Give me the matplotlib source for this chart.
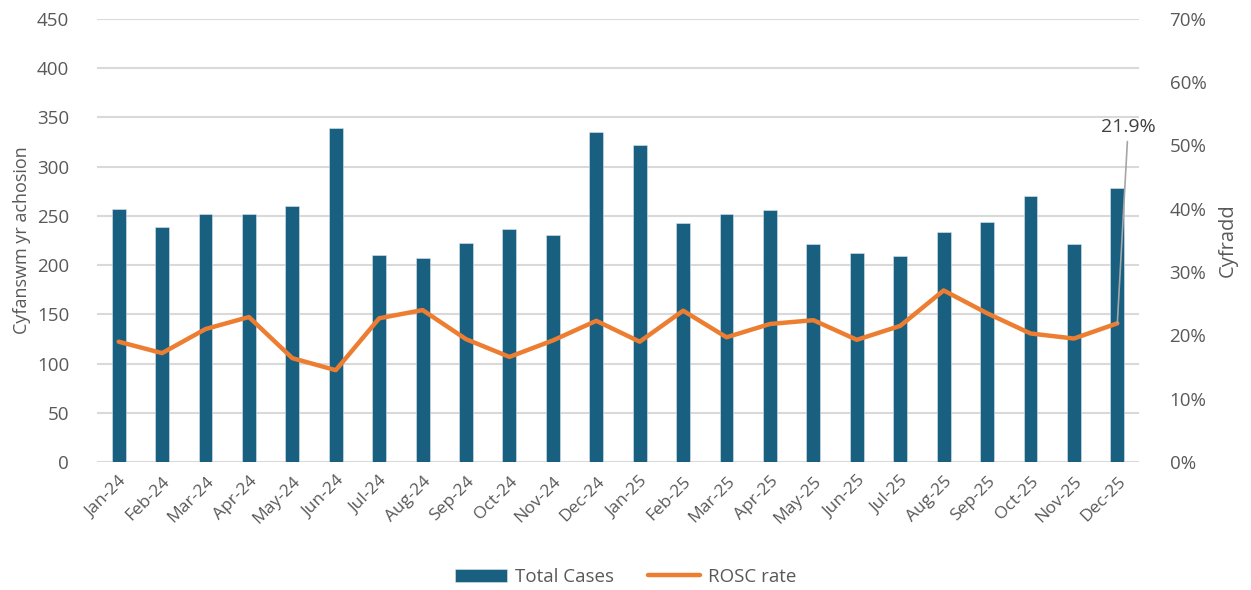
import numpy as np
import matplotlib.pyplot as plt
import matplotlib.ticker as mtick

plt.rcParams["font.family"] = ["Open Sans", "DejaVu Sans"]

months = ["Jan-24", "Feb-24", "Mar-24", "Apr-24", "May-24", "Jun-24",
          "Jul-24", "Aug-24", "Sep-24", "Oct-24", "Nov-24", "Dec-24",
          "Jan-25", "Feb-25", "Mar-25", "Apr-25", "May-25", "Jun-25",
          "Jul-25", "Aug-25", "Sep-25", "Oct-25", "Nov-25", "Dec-25"]
total_cases = [257, 239, 252, 252, 260, 339, 210, 207, 222, 237, 231, 335,
               322, 243, 252, 256, 221, 212, 209, 234, 244, 270, 221, 278]
rosc_rate = [0.190, 0.172, 0.210, 0.229, 0.164, 0.145, 0.227, 0.240,
             0.194, 0.166, 0.192, 0.223, 0.190, 0.239, 0.197, 0.218,
             0.224, 0.193, 0.215, 0.271, 0.235, 0.203, 0.195, 0.219]

bar_color  = "#185F80"
line_color = "#ED7D31"
text_color = "#595959"
grid_color = "#D9D9D9"

fig = plt.figure(figsize=(12.51, 5.90), dpi=100)
ax = fig.add_axes([0.0775, 0.217, 0.833, 0.751])
ax2 = ax.twinx()

x = np.arange(len(months))
ax.bar(x, total_cases, width=0.32, color=bar_color, edgecolor="#dbe6ee",
       linewidth=0.4, label="Total Cases", zorder=2)
ax2.plot(x, rosc_rate, color=line_color, linewidth=3.2, label="ROSC rate",
         solid_capstyle="round", zorder=3)

ax.set_xlim(-0.5, len(months) - 0.5)
ax.set_ylim(0, 450)
ax.set_yticks(range(0, 451, 50))
ax2.set_ylim(0, 0.70)
ax2.set_yticks(np.arange(0, 0.71, 0.10))
ax2.yaxis.set_major_formatter(mtick.PercentFormatter(xmax=1.0, decimals=0))

ax.grid(axis="y", color=grid_color, linewidth=1.5, zorder=0)
ax.set_axisbelow(True)

for a in (ax, ax2):
    for s in a.spines.values():
        s.set_visible(False)
    a.tick_params(length=0, labelsize=13.5, colors=text_color)

ax.tick_params(axis="y", pad=20)
ax2.tick_params(axis="y", pad=22)
ax.set_xticks(x)
ax.set_xticklabels(months, rotation=45, ha="right", rotation_mode="anchor",
                   fontsize=12.5)
ax.tick_params(axis="x", pad=8)

ax.set_ylabel("Cyfanswm yr achosion", fontsize=13, color=text_color, labelpad=4)
ax2.set_ylabel("Cyfradd", fontsize=14.5, color=text_color, labelpad=8)

# data label for last point
last = len(months) - 1
ax2.annotate(f"{rosc_rate[last]:.1%}", xy=(x[last], rosc_rate[last]),
             xytext=(x[last] + 0.25, 0.515), textcoords="data",
             ha="center", va="bottom", fontsize=14, color="#404040",
             arrowprops=dict(arrowstyle="-", color="#A6A6A6", linewidth=1.2,
                             shrinkA=2, shrinkB=0))

h1, l1 = ax.get_legend_handles_labels()
h2, l2 = ax2.get_legend_handles_labels()
fig.legend(h1 + h2, l1 + l2, loc="center", bbox_to_anchor=(0.5, 0.022),
           ncol=2, frameon=False, fontsize=13.5, labelcolor=text_color,
           handlelength=2.8, handletextpad=0.4, columnspacing=1.8)

fig.savefig("out.png", dpi=100)
